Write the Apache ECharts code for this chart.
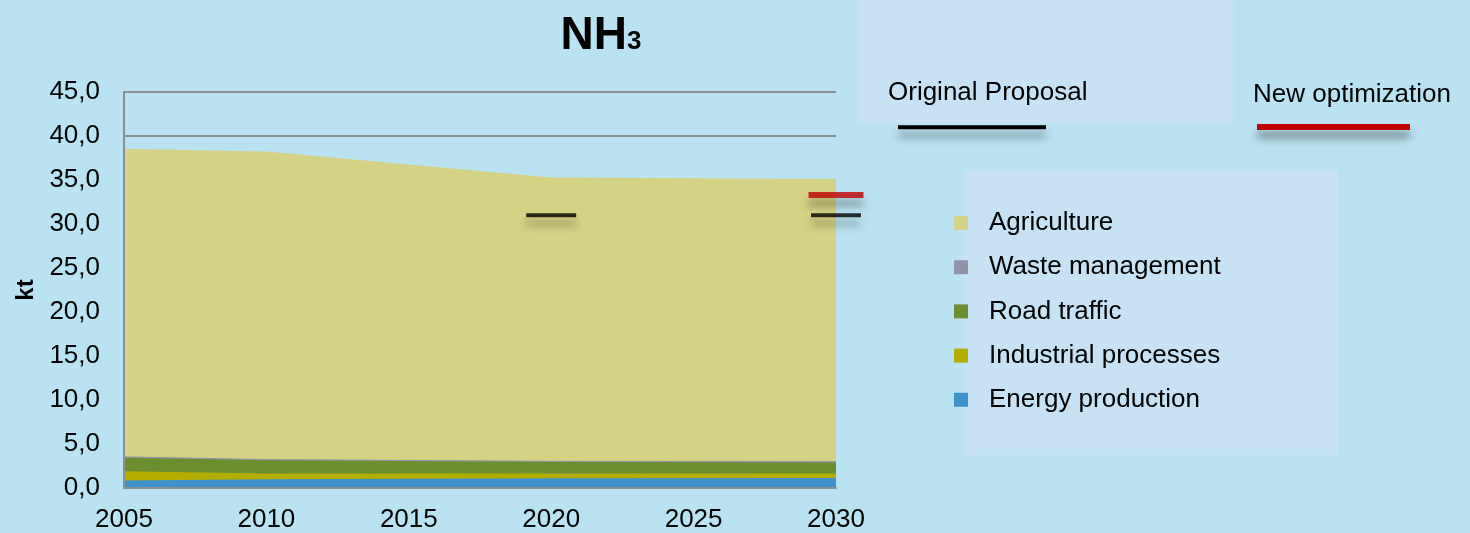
<!DOCTYPE html>
<html>
<head>
<meta charset="utf-8">
<script src="https://cdn.jsdelivr.net/npm/echarts@6/dist/echarts.min.js"></script>
<style>
html,body{margin:0;padding:0;background:#b9e3f2;}
#c{width:1470px;height:533px;}
</style>
</head>
<body>
<div id="c"></div>
<script>
// ---- data ----
var years = [2005, 2010, 2020, 2030];
var energyProduction    = [0.85, 1.00, 1.10, 1.15];
var industrialProcesses = [1.05, 0.65, 0.55, 0.50];
var roadTraffic         = [1.55, 1.50, 1.30, 1.25];
var wasteManagement     = [0.08, 0.08, 0.08, 0.08];
var agriculture         = [35.03, 35.00, 32.24, 32.13];
var originalProposal = [[2020, 31.0], [2030, 31.0]];
var newOptimization  = [[2030, 33.3]];
var legendNames = ['Agriculture', 'Waste management', 'Road traffic', 'Industrial processes', 'Energy production'];

var FONT = '"Liberation Sans", Arial, sans-serif';
// stacking order bottom -> top
var stackOrder = [
  { name: 'Energy production', vals: energyProduction, color: '#3e92c9' },
  { name: 'Industrial processes', vals: industrialProcesses, color: '#b3ad00' },
  { name: 'Road traffic', vals: roadTraffic, color: '#6b8f2f' },
  { name: 'Waste management', vals: wasteManagement, color: '#9193ab', lw: 1 },
  { name: 'Agriculture', vals: agriculture, color: '#d4d285' }
];
var running = years.map(function () { return 0; });
var areaSeries = stackOrder.map(function (s, k) {
  running = running.map(function (r, i) { return r + s.vals[i]; });
  var cum = running.slice();
  return {
    name: s.name, type: 'line', yAxisIndex: 0,
    data: years.map(function (y, i) { return [y, cum[i]]; }),
    symbol: 'none', showSymbol: false,
    lineStyle: { width: s.lw || 0, color: s.lw ? '#8f91a6' : s.color },
    itemStyle: { color: s.color },
    areaStyle: { color: s.color, opacity: 1 },
    emphasis: { disabled: true },
    z: 2 + (stackOrder.length - k) * 0.1
  };
});
var shadow = { shadowColor: 'rgba(0,0,0,0.45)', shadowBlur: 8, shadowOffsetY: 8 };
var axisGray = '#8a8f93';

var chart = echarts.init(document.getElementById('c'));
chart.setOption({
  backgroundColor: '#b9e3f2',
  animation: false,
  title: {
    text: '{a|NH}{b|3}', left: 596, top: 2, textAlign: 'center',
    textStyle: {
      rich: {
        a: { fontFamily: FONT, fontSize: 46, fontWeight: 'bold', color: '#000', lineHeight: 52, verticalAlign: 'bottom' },
        b: { fontFamily: FONT, fontSize: 26, fontWeight: 'bold', color: '#000', lineHeight: 52, verticalAlign: 'bottom', padding: [0, 0, 4, 0] }
      }
    }
  },
  grid: { left: 124, right: 634, top: 92, bottom: 45 },
  xAxis: {
    type: 'value', min: 2005, max: 2030, interval: 5, z: 10,
    axisLine: { show: true, lineStyle: { color: axisGray, width: 2 } },
    axisTick: { show: false },
    splitLine: { show: false },
    axisLabel: { color: '#000', fontFamily: FONT, fontSize: 26, margin: 19,
      formatter: function (v) { return String(v); } }
  },
  yAxis: [{
    type: 'value', min: 0, max: 45, interval: 5,
    name: 'kt', nameLocation: 'middle', nameGap: 86,
    nameTextStyle: { color: '#000', fontFamily: FONT, fontSize: 24, fontWeight: 'bold' },
    axisLine: { show: false },
    axisTick: { show: false },
    splitLine: { show: true, lineStyle: { color: axisGray, width: 2 } },
    axisLabel: { color: '#000', fontFamily: FONT, fontSize: 26, margin: 24,
      formatter: function (v) { return v.toFixed(1).replace('.', ','); } }
  }, {
    type: 'value', min: 0, max: 45, interval: 5, position: 'left', z: 10,
    axisLine: { show: true, onZero: false, lineStyle: { color: axisGray, width: 2 } },
    axisTick: { show: false }, splitLine: { show: false }, axisLabel: { show: false }
  }],
  legend: {
    data: legendNames, orient: 'vertical', left: 949, top: 205,
    icon: 'rect', itemWidth: 14, itemHeight: 14, itemGap: 18.2, z: 10,
    selectedMode: false,
    textStyle: { color: '#000', fontFamily: FONT, fontSize: 26, lineHeight: 26, padding: [0, 0, 0, 16] }
  },
  graphic: [
    { type: 'rect', z: 0, shape: { x: 857, y: 0, width: 376, height: 123 }, style: { fill: '#c6e2f4' } },
    { type: 'text', z: 1, style: { x: 888, y: 92.5, text: 'Original Proposal', font: '26px ' + FONT, fill: '#000', verticalAlign: 'middle' } },
    { type: 'text', z: 1, style: { x: 1253, y: 94.7, text: 'New optimization', font: '26px ' + FONT, fill: '#000', verticalAlign: 'middle' } },
    { type: 'rect', z: 1, shape: { x: 898, y: 125.3, width: 148, height: 4 }, style: Object.assign({ fill: '#000' }, shadow) },
    { type: 'rect', z: 1, shape: { x: 1257, y: 124, width: 153, height: 6 }, style: Object.assign({ fill: '#c00000' }, shadow) },
    { type: 'rect', z: 0, shape: { x: 963, y: 170, width: 375, height: 285 }, style: { fill: '#c6e2f4' } }
  ],
  series: areaSeries.concat([
    {
      name: 'Original Proposal', type: 'scatter', data: originalProposal, clip: false,
      symbol: 'rect', symbolSize: [50, 4], z: 12,
      itemStyle: Object.assign({ color: '#000' }, shadow), emphasis: { disabled: true }
    },
    {
      name: 'New optimization', type: 'scatter', data: newOptimization, clip: false,
      symbol: 'rect', symbolSize: [55, 6], z: 12,
      itemStyle: Object.assign({ color: '#c00000' }, shadow), emphasis: { disabled: true }
    }
  ])
});
</script>
</body>
</html>
